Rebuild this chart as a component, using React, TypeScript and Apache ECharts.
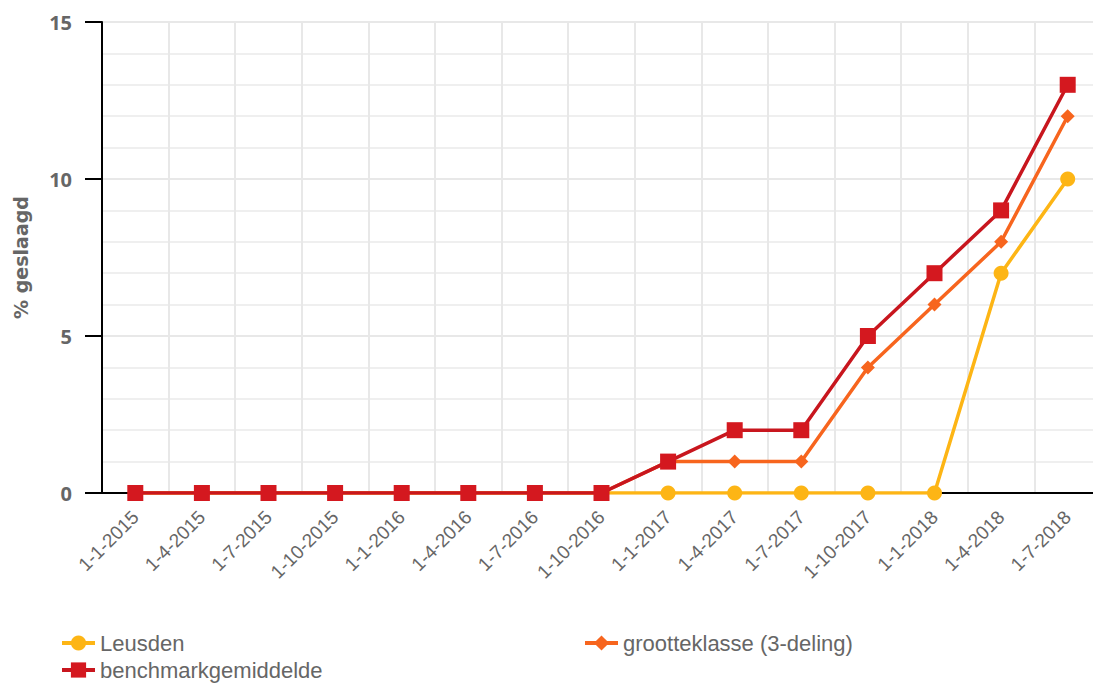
import React, { useEffect, useRef } from "react";
import * as echarts from "echarts";

const categories = [
  "1-1-2015", "1-4-2015", "1-7-2015", "1-10-2015",
  "1-1-2016", "1-4-2016", "1-7-2016", "1-10-2016",
  "1-1-2017", "1-4-2017", "1-7-2017", "1-10-2017",
  "1-1-2018", "1-4-2018", "1-7-2018",
];
const leusden = [0, 0, 0, 0, 0, 0, 0, 0, 0, 0, 0, 0, 0, 7, 10];
const grootteklasse = [0, 0, 0, 0, 0, 0, 0, 0, 1, 1, 1, 4, 6, 8, 12];
const benchmark = [0, 0, 0, 0, 0, 0, 0, 0, 1, 2, 2, 5, 7, 9, 13];
const yTicks = { min: 0, max: 15, interval: 5 };

export default function App() {
  const ref = useRef<HTMLDivElement>(null);
  useEffect(() => {
    if (!ref.current) return;
    const chart = echarts.init(ref.current, null, { renderer: "svg" });
    const legendText = { fontSize: 22, color: "#666", fontFamily: "Liberation Sans, Arial, sans-serif" };
    const legendCommon = {
      itemWidth: 33,
      itemHeight: 19,
      itemGap: 10,
      padding: 0,
      textStyle: legendText,
      lineStyle: { width: 4 },
    };
    chart.setOption({
      animation: false,
      grid: { left: 102, right: 9, top: 22, bottom: 191, outerBoundsMode: "none", containLabel: false },
      legend: [
        { ...legendCommon, data: ["Leusden"], left: 60, top: 632 },
        { ...legendCommon, data: ["grootteklasse (3-deling)"], left: 583, top: 632 },
        { ...legendCommon, data: ["benchmarkgemiddelde"], left: 60, top: 659 },
      ],
      xAxis: {
        type: "category",
        data: categories,
        boundaryGap: true,
        axisLine: { show: true, lineStyle: { color: "#000", width: 2 } },
        axisTick: { show: false },
        splitLine: { show: true, interval: 0, lineStyle: { color: "#e8e8e8", width: 2 } },
        axisLabel: {
          rotate: 45,
          interval: 0,
          color: "#666",
          fontSize: 19,
          fontFamily: "Liberation Sans, Arial, sans-serif",
          margin: 21,
        },
      },
      yAxis: {
        type: "value",
        min: yTicks.min,
        max: yTicks.max,
        interval: yTicks.interval,
        name: "% geslaagd",
        nameLocation: "middle",
        nameGap: 72,
        nameTextStyle: { fontSize: 19, fontWeight: "bold", color: "#666", fontFamily: "DejaVu Sans, sans-serif" },
        axisLine: { show: true, lineStyle: { color: "#000", width: 2 } },
        axisTick: { show: true, length: 17, lineStyle: { color: "#000", width: 2 } },
        axisLabel: {
          color: "#666",
          fontSize: 20,
          fontWeight: "bold",
          fontFamily: "Open Sans, sans-serif",
          margin: 30,
        },
        splitLine: { show: true, lineStyle: { color: "#e8e8e8", width: 2 } },
        minorTick: { show: false, splitNumber: 5 },
        minorSplitLine: { show: true, lineStyle: { color: "#efefef", width: 2 } },
      },
      series: [
        {
          name: "Leusden",
          type: "line",
          data: leusden,
          symbol: "circle",
          symbolSize: 15,
          color: "#fdb515",
          lineStyle: { width: 3.5, color: "#fdb515" },
          itemStyle: { color: "#fdb515" },
          z: 2,
        },
        {
          name: "grootteklasse (3-deling)",
          type: "line",
          data: grootteklasse,
          symbol: "diamond",
          symbolSize: 14,
          color: "#f7651e",
          lineStyle: { width: 3.5, color: "#f7651e" },
          itemStyle: { color: "#f7651e" },
          z: 3,
        },
        {
          name: "benchmarkgemiddelde",
          type: "line",
          data: benchmark,
          symbol: "rect",
          symbolSize: 16,
          color: "#d4181f",
          lineStyle: { width: 3.5, color: "#c8161e" },
          itemStyle: { color: "#d4181f" },
          z: 4,
        },
      ],
    });
    return () => chart.dispose();
  }, []);
  return (
    <div style={{ position: "absolute", left: 0, top: 0, width: 1093, height: 684, overflow: "hidden", background: "#fff" }}>
      <div ref={ref} style={{ width: 1110, height: 684 }} />
    </div>
  );
}
